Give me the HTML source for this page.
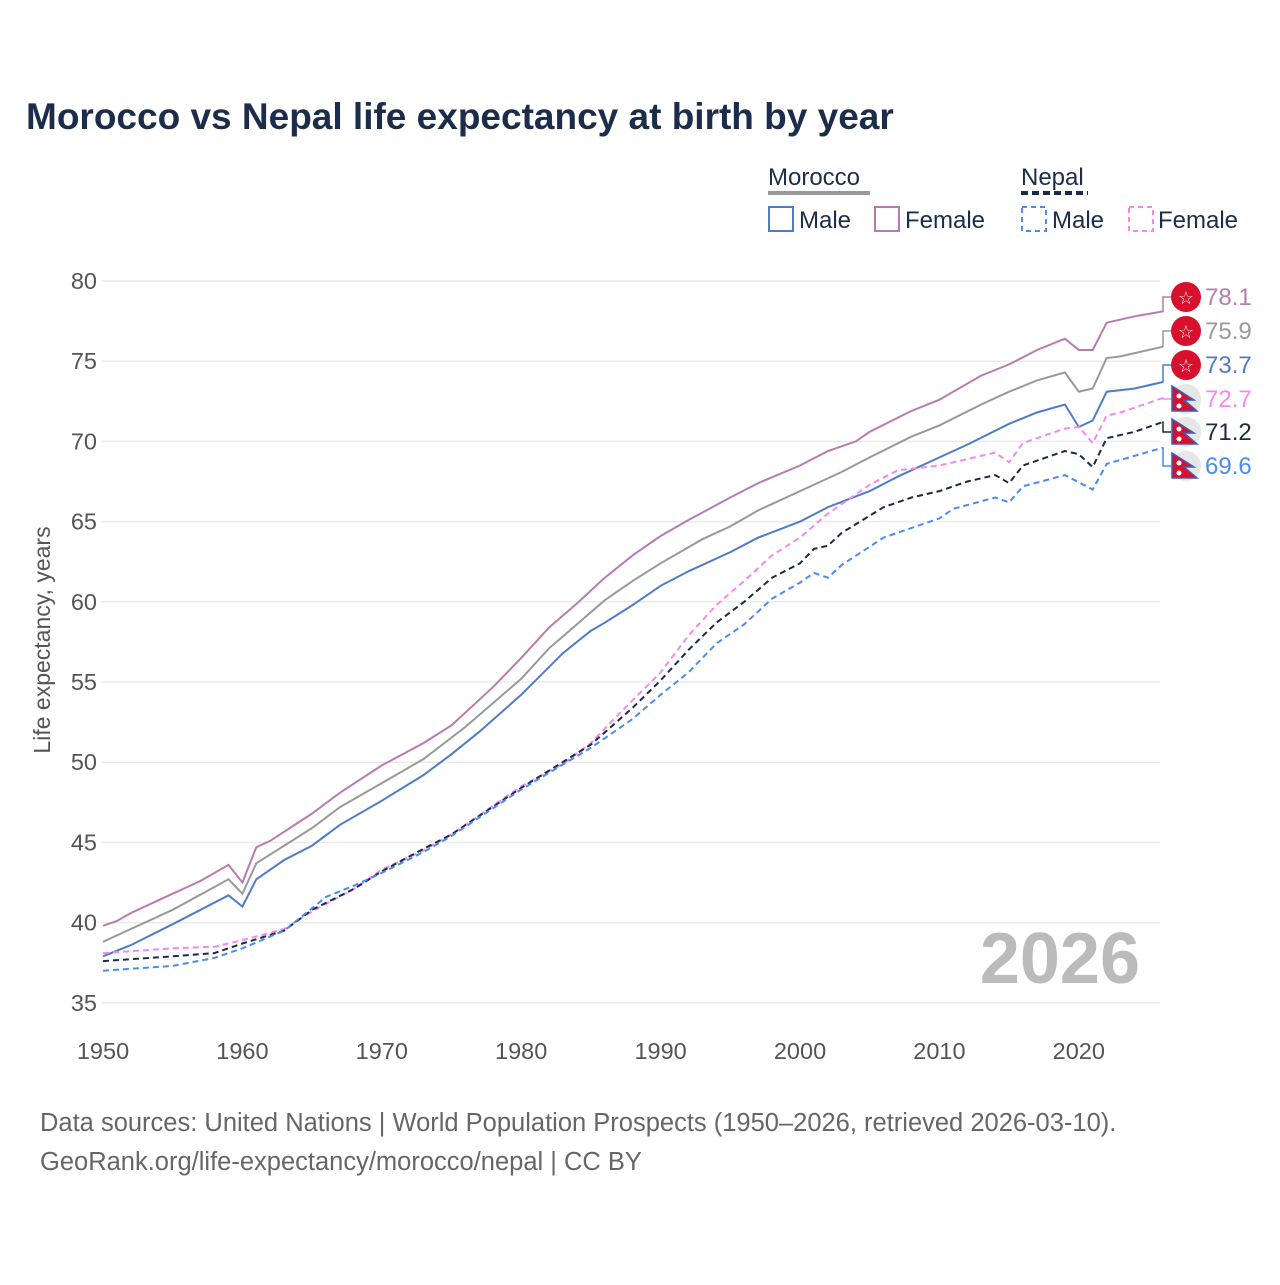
<!DOCTYPE html>
<html><head><meta charset="utf-8"><style>
body{margin:0;background:#fff}
svg text{font-family:"Liberation Sans",sans-serif}
</style></head><body>
<svg id="s" width="1280" height="1280" xmlns="http://www.w3.org/2000/svg">
<rect width="1280" height="1280" fill="#fff"/>
<text x="26" y="129" font-size="37" font-weight="bold" fill="#1b2d4a">Morocco vs Nepal life expectancy at birth by year</text>
<g font-size="24" fill="#1b2d4a">
<text x="768" y="185">Morocco</text>
<line x1="768" y1="193" x2="870" y2="193" stroke="#999" stroke-width="4"/>
<text x="1021" y="185">Nepal</text>
<line x1="1021" y1="193" x2="1088" y2="193" stroke="#1c2a44" stroke-width="4" stroke-dasharray="7,4"/>
<rect x="769" y="207" width="24" height="24" fill="none" stroke="#4f7cc6" stroke-width="2"/>
<text x="799" y="228">Male</text>
<rect x="875" y="207" width="24" height="24" fill="none" stroke="#b77bb2" stroke-width="2"/>
<text x="905" y="228">Female</text>
<rect x="1022" y="207" width="24" height="24" fill="none" stroke="#4a8cf0" stroke-width="2" stroke-dasharray="5,4"/>
<text x="1052" y="228">Male</text>
<rect x="1129" y="207" width="24" height="24" fill="none" stroke="#f587f0" stroke-width="2" stroke-dasharray="5,4"/>
<text x="1158" y="228">Female</text>
</g>
<g id="grid"></g>
<text x="1140" y="983" font-size="72" font-weight="bold" fill="#bbb" text-anchor="end">2026</text>
<text transform="translate(50,640) rotate(-90)" font-size="23" fill="#555" text-anchor="middle">Life expectancy, years</text>
<g id="lines"></g>
<text x="40" y="1131" font-size="25.5" fill="#666">Data sources: United Nations | World Population Prospects (1950–2026, retrieved 2026-03-10).</text>
<text x="40" y="1170" font-size="25.5" fill="#666">GeoRank.org/life-expectancy/morocco/nepal | CC BY</text>
</svg>
<script>
const X=y=>103+(y-1950)*13.94, Y=v=>281+(80-v)*16.04;
const ns="http://www.w3.org/2000/svg";
function el(p,t,a,txt){const e=document.createElementNS(ns,t);for(const k in a)e.setAttribute(k,a[k]);if(txt!==undefined)e.textContent=txt;p.appendChild(e);return e;}
const g=document.getElementById('grid');
for(let v=35;v<=80;v+=5){el(g,'line',{x1:101,x2:1160,y1:Y(v),y2:Y(v),stroke:'#ebebeb','stroke-width':1.5});el(g,'text',{x:97,y:Y(v)+8,'font-size':23.5,fill:'#555','text-anchor':'end'},v);}
for(let yr=1950;yr<=2020;yr+=10)el(g,'text',{x:X(yr),y:1059,'font-size':23.5,fill:'#555','text-anchor':'middle'},yr);
const S=[
["#b77bb2",0,"1950 39.8 1951 40.1 1952 40.6 1955 41.8 1957 42.6 1959 43.6 1960 42.5 1961 44.7 1962 45.1 1965 46.8 1967 48.1 1970 49.8 1973 51.2 1975 52.3 1978 54.7 1980 56.5 1982 58.4 1984 59.9 1986 61.5 1988 62.9 1990 64.1 1992 65.1 1995 66.5 1997 67.4 2000 68.5 2002 69.4 2004 70.0 2005 70.6 2008 71.9 2010 72.6 2013 74.1 2015 74.8 2017 75.7 2019 76.4 2020 75.7 2021 75.7 2022 77.4 2024 77.8 2026 78.1",297,"78.1",0],
["#999",0,"1950 38.8 1952 39.6 1955 40.8 1959 42.7 1960 41.8 1961 43.7 1965 45.9 1967 47.2 1970 48.7 1973 50.2 1976 52.2 1980 55.2 1982 57.1 1984 58.6 1986 60.1 1988 61.3 1990 62.4 1993 63.9 1995 64.7 1997 65.7 2000 66.9 2003 68.1 2005 69.0 2008 70.3 2010 71.0 2013 72.3 2015 73.1 2017 73.8 2019 74.3 2020 73.1 2021 73.3 2022 75.2 2023 75.3 2026 75.9",331,"75.9",0],
["#4f7cc6",0,"1950 37.9 1952 38.6 1955 39.9 1959 41.7 1960 41.0 1961 42.7 1963 43.9 1965 44.8 1967 46.1 1970 47.6 1973 49.2 1975 50.5 1977 51.9 1980 54.2 1983 56.8 1985 58.2 1986 58.7 1988 59.8 1990 61.0 1992 61.9 1995 63.1 1997 64.0 2000 65.0 2002 65.9 2005 66.9 2007 67.8 2010 69.0 2012 69.8 2015 71.1 2017 71.8 2019 72.3 2020 70.9 2021 71.3 2022 73.1 2024 73.3 2026 73.7",365,"73.7",0],
["#f587f0",1,"1950 38.1 1955 38.4 1958 38.5 1960 38.9 1963 39.6 1965 40.7 1968 42.1 1970 43.3 1973 44.5 1975 45.5 1978 47.3 1980 48.5 1983 49.9 1985 51.2 1987 53.0 1990 55.6 1992 57.9 1994 59.8 1996 61.3 1998 62.9 2000 64.0 2002 65.5 2005 67.3 2007 68.2 2010 68.5 2014 69.3 2015 68.7 2016 69.9 2019 70.8 2020 70.9 2021 69.9 2022 71.6 2023 71.8 2026 72.7",399,"72.7",1],
["#1c2a44",1,"1950 37.6 1955 37.9 1958 38.1 1960 38.7 1963 39.5 1965 40.8 1968 42.1 1970 43.2 1973 44.6 1975 45.5 1980 48.4 1985 51.1 1988 53.4 1990 55.1 1992 57.0 1994 58.7 1996 60.0 1998 61.5 2000 62.4 2001 63.3 2002 63.5 2003 64.3 2006 65.9 2008 66.5 2010 66.9 2012 67.5 2014 67.9 2015 67.4 2016 68.5 2019 69.4 2020 69.2 2021 68.4 2022 70.2 2024 70.6 2026 71.2",432,"71.2",1],
["#4a8cf0",1,"1950 37.0 1955 37.3 1958 37.8 1960 38.4 1963 39.5 1965 40.9 1966 41.6 1968 42.3 1970 43.1 1973 44.4 1975 45.4 1980 48.3 1985 50.9 1988 52.7 1990 54.2 1992 55.6 1994 57.4 1996 58.6 1998 60.2 2000 61.2 2001 61.8 2002 61.5 2003 62.3 2006 64.0 2010 65.2 2011 65.8 2014 66.5 2015 66.2 2016 67.2 2019 67.9 2021 67.0 2022 68.6 2026 69.6",466,"69.6",1]];
const L=document.getElementById('lines');
S.forEach(([c,d,data,ly,lab,nep])=>{
 const a=data.split(' ').map(Number);let p=[];
 for(let i=0;i<a.length;i+=2)p.push(X(a[i]).toFixed(1)+','+Y(a[i+1]).toFixed(1));
 const at={points:p.join(' '),fill:'none',stroke:c,'stroke-width':2};
 if(d)at['stroke-dasharray']='6,4';
 el(L,'polyline',at);
 const ey=Y(a[a.length-1]);
 el(L,'polyline',{points:`1162,${ey} 1163,${ey} 1163,${ly} 1172,${ly}`,fill:'none',stroke:c,'stroke-width':1.5});
 if(!nep){el(L,'circle',{cx:1186,cy:ly,r:15,fill:'#d7102e'});el(L,'text',{x:1186,y:ly+7,'font-size':18,fill:'#eee','text-anchor':'middle'},'☆');}
 else{el(L,'circle',{cx:1186,cy:ly,r:15,fill:'#e6e6e6'});
  el(L,'polygon',{points:`${1172},${ly-13} ${1194},${ly+1} ${1184},${ly+1} ${1197},${ly+12} ${1172},${ly+12}`,fill:'#d7102e',stroke:'#3d5fb5','stroke-width':1.5});
  el(L,'circle',{cx:1179,cy:ly-3,r:2.5,fill:'#fff'});el(L,'circle',{cx:1179,cy:ly+7,r:2.5,fill:'#fff'});}
 el(L,'text',{x:1205,y:ly+8,'font-size':24,fill:c},lab);
});
</script>
</body></html>
